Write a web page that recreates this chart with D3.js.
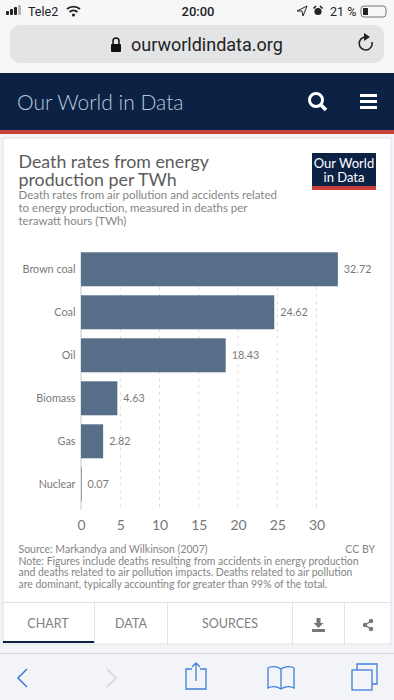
<!DOCTYPE html>
<html lang="en">
<head>
  <meta charset="UTF-8">
  <title>Death rates from energy production per TWh</title>
  <script src="https://cdn.jsdelivr.net/npm/d3@7"></script>
  <style>
    html, body { margin: 0; padding: 0; background: #f3f4f7; }
    svg { display: block; font-family: Lato, sans-serif; }
  </style>
</head>
<body>
  <svg width="394" height="700"></svg>
  <script>
    var categories = ['Brown coal', 'Coal', 'Oil', 'Biomass', 'Gas', 'Nuclear'];
    var values = [32.72, 24.62, 18.43, 4.63, 2.82, 0.07];
    var xTicks = [0, 5, 10, 15, 20, 25, 30];
    var titleLines = ['Death rates from energy', 'production per TWh'];
    var subtitleLines = [
      'Death rates from air pollution and accidents related',
      'to energy production, measured in deaths per',
      'terawatt hours (TWh)'
    ];
    var noteLines = [
      'Note: Figures include deaths resulting from accidents in energy production',
      'and deaths related to air pollution impacts. Deaths related to air pollution',
      'are dominant, typically accounting for greater than 99% of the total.'
    ];

    var svg = d3.select('svg');

    function label(x, y, str, size, color, anchor, font) {
      return svg.append('text')
      .attr('x', x)
      .attr('y', y)
      .attr('font-size', size)
      .attr('fill', color)
      .attr('text-anchor', anchor || 'start')
      .attr('font-family', font || null)
      .text(str);
    }

    // phone status bar + address bar
    svg.append('rect').attr('width', 394).attr('height', 73).attr('fill', '#f7f7f8');
    var signalBars = [4, 6, 8, 10];
    signalBars.forEach(function(h, i) {
      svg.append('rect').attr('x', 6 + i * 4).attr('y', 15 - h).attr('width', 3).attr('height', h)
      .attr('rx', 1).attr('fill', i === 3 ? '#b5b5b5' : '#222');
    });
    label(28, 16, 'Tele2', 12.5, '#222', 'start', 'Roboto');
    svg.append('path').attr('d', 'M67 9 a10 10 0 0 1 13 0 M69.5 12 a6 6 0 0 1 8 0')
    .attr('fill', 'none').attr('stroke', '#222').attr('stroke-width', 1.8);
    svg.append('circle').attr('cx', 73.500).attr('cy', 15).attr('r', 1.6).attr('fill', '#222');
    label(198, 16, '20:00', 13, '#222', 'middle', 'Roboto').attr('font-weight', 500);
    svg.append('path').attr('d', 'M297 11 L307 6 L303 16 L302 11 Z').attr('fill', 'none').attr('stroke', '#222');
    // alarm clock
    svg.append('circle').attr('cx', 318).attr('cy', 11.5).attr('r', 3.6).attr('fill', '#222');
    svg.append('path').attr('d', 'M313.500 8.500 L316 6 M322.500 8.500 L320 6').attr('stroke', '#222').attr('stroke-width', 1.6);
    label(330, 16, '21 %', 12.5, '#222', 'start', 'Roboto');
    svg.append('rect').attr('x', 361).attr('y', 6).attr('width', 25).attr('height', 11).attr('rx', 3)
    .attr('fill', 'none').attr('stroke', '#777');
    svg.append('rect').attr('x', 363).attr('y', 8).attr('width', 5).attr('height', 7).attr('fill', '#222');

    svg.append('rect').attr('x', 10).attr('y', 25).attr('width', 374).attr('height', 38).attr('rx', 10).attr('fill', '#e3e4e6');
    svg.append('rect').attr('x', 111).attr('y', 44).attr('width', 10).attr('height', 8).attr('rx', 1).attr('fill', '#111');
    svg.append('path').attr('d', 'M113 44 v-3 a3 3 0 0 1 6 0 v3').attr('fill', 'none').attr('stroke', '#111').attr('stroke-width', 1.5);
    label(131, 50.500, 'ourworldindata.org', 18, '#222', 'start', 'Roboto');
    // reload icon
    svg.append('path').attr('d', 'M372 42 a6.500 6.500 0 1 1 -6 -5').attr('fill', 'none').attr('stroke', '#222').attr('stroke-width', 1.6);
    svg.append('path').attr('d', 'M364 33 L370 37 L364 41 Z').attr('fill', '#222');

    // site header
    svg.append('rect').attr('y', 73).attr('width', 394).attr('height', 57).attr('fill', '#0b2245');
    svg.append('rect').attr('y', 130).attr('width', 394).attr('height', 4).attr('fill', '#c8403a');
    label(17, 110, 'Our World in Data', 21, '#b9c8d8').attr('font-weight', 300);
    svg.append('circle').attr('cx', 316).attr('cy', 100).attr('r', 6.500).attr('fill', 'none').attr('stroke', '#fff').attr('stroke-width', 3);
    svg.append('line').attr('x1', 321).attr('y1', 105).attr('x2', 326).attr('y2', 110).attr('stroke', '#fff').attr('stroke-width', 3.500);
    [94, 100, 106].forEach(function(y) {
      svg.append('rect').attr('x', 360).attr('y', y).attr('width', 17).attr('height', 3).attr('fill', '#fff');
    });

    // chart card
    svg.append('rect').attr('x', 3).attr('y', 138).attr('width', 388).attr('height', 506).attr('fill', '#fff')
    .attr('stroke', '#e2e2e2');

    titleLines.forEach(function(t, i) {
      label(18.500, 168 + i * 17.500, t, 17.800, '#5b5b5b');
    });
    subtitleLines.forEach(function(t, i) {
      label(18.500, 199 + i * 12.800, t, 11.500, '#858585');
    });

    // logo
    svg.append('rect').attr('x', 312).attr('y', 153).attr('width', 64).attr('height', 37).attr('fill', '#0b2245');
    svg.append('rect').attr('x', 312).attr('y', 186).attr('width', 64).attr('height', 4).attr('fill', '#c8403a');
    label(344, 168, 'Our World', 13, '#fff', 'middle');
    label(344, 182, 'in Data', 13, '#fff', 'middle');

    // chart
    var margin = {top: 248, left: 81, bottom: 510};
    var xScale = d3.scaleLinear().domain([0, 30]).range([margin.left, 316.500]);
    var yScale = d3.scaleBand().domain(categories).range([margin.top, margin.top + 257.600]).paddingInner(0.21).paddingOuter(0.1);

    svg.append('g').selectAll('line')
    .data(xTicks)
    .enter()
    .append('line')
    .attr('x1', function(d) { return xScale(d); })
    .attr('x2', function(d) { return xScale(d); })
    .attr('y1', margin.top + 4)
    .attr('y2', margin.bottom)
    .attr('stroke', function(d) { return d === 0 ? '#c4c9d0' : '#e0dcdc'; })
    .attr('stroke-dasharray', function(d) { return d === 0 ? null : '3,4'; });

    var axis = svg.append('g')
    .attr('transform', 'translate(0,' + margin.bottom + ')')
    .call(d3.axisBottom(xScale).tickValues(xTicks).tickSize(0).tickPadding(10));
    axis.select('.domain').remove();
    axis.selectAll('text').attr('font-size', 14).attr('fill', '#777').attr('font-family', 'Lato');

    var row = svg.selectAll('.row')
    .data(categories)
    .enter()
    .append('g')
    .attr('class', 'row');

    row.append('rect')
    .attr('x', xScale(0))
    .attr('y', function(d) { return yScale(d); })
    .attr('width', function(d, i) { return xScale(values[i]) - xScale(0); })
    .attr('height', yScale.bandwidth())
    .attr('fill', '#566e88');

    row.append('text')
    .attr('x', xScale(0) - 5.500)
    .attr('y', function(d) { return yScale(d) + yScale.bandwidth() / 2; })
    .attr('dy', '.35em')
    .attr('text-anchor', 'end')
    .attr('font-size', 10.800)
    .attr('fill', '#7a7a7a')
    .text(function(d) { return d; });

    row.append('text')
    .attr('x', function(d, i) { return xScale(values[i]) + 6; })
    .attr('y', function(d) { return yScale(d) + yScale.bandwidth() / 2; })
    .attr('dy', '.35em')
    .attr('font-size', 10.800)
    .attr('fill', '#7a7a7a')
    .text(function(d, i) { return values[i]; });

    // footer
    label(18.500, 553, 'Source: Markandya and Wilkinson (2007)', 10.500, '#858585');
    label(375, 553, 'CC BY', 10.500, '#858585', 'end');
    noteLines.forEach(function(t, i) {
      label(18.500, 564.800 + i * 11.600, t, 10.450, '#858585');
    });

    // tabs
    svg.append('line').attr('x1', 3).attr('x2', 391).attr('y1', 602.500).attr('y2', 602.500).attr('stroke', '#e2e2e2');
    [94, 167, 292, 344].forEach(function(x) {
      svg.append('line').attr('x1', x + 0.500).attr('x2', x + 0.500).attr('y1', 603).attr('y2', 644).attr('stroke', '#e2e2e2');
    });
    svg.append('rect').attr('x', 3).attr('y', 641).attr('width', 91).attr('height', 2).attr('fill', '#0b2245');
    label(48, 628, 'CHART', 12.500, '#808080', 'middle');
    label(131, 628, 'DATA', 12.500, '#808080', 'middle');
    label(230, 628, 'SOURCES', 12.500, '#808080', 'middle');
    svg.append('path').attr('d', 'M316.500 618 h4 v5 h3 l-5 5 l-5 -5 h3 Z M312 629 h13 v3 h-13 Z').attr('fill', '#777');
    svg.append('path').attr('d', 'M371 621 L365 625 L371 629').attr('fill', 'none').attr('stroke', '#777').attr('stroke-width', 1.5);
    [[371, 621], [365, 625], [371, 629]].forEach(function(p) {
      svg.append('circle').attr('cx', p[0]).attr('cy', p[1]).attr('r', 2.200).attr('fill', '#777');
    });

    // browser toolbar
    svg.append('line').attr('x1', 0).attr('x2', 394).attr('y1', 653.500).attr('y2', 653.500).attr('stroke', '#d8d8d8');
    var blue = '#3f7fdb';
    svg.append('path').attr('d', 'M27 669 L18 678 L27 687').attr('fill', 'none').attr('stroke', blue).attr('stroke-width', 1.6);
    svg.append('path').attr('d', 'M107 669 L116 678 L107 687').attr('fill', 'none').attr('stroke', '#d4d6da').attr('stroke-width', 1.6);
    svg.append('path').attr('d', 'M192 669 h-6 v20 h20 v-20 h-6 M196 681 v-18 M192 667 l4 -4 l4 4').attr('fill', 'none').attr('stroke', blue).attr('stroke-width', 1.3);
    svg.append('path').attr('d', 'M281 669 c-4 -3 -10 -3 -13 -1 v20 c3 -2 9 -2 13 1 c4 -3 10 -3 13 -1 v-20 c-3 -2 -9 -2 -13 1 Z M281 669 v20').attr('fill', 'none').attr('stroke', blue).attr('stroke-width', 1.3);
    svg.append('rect').attr('x', 352).attr('y', 670).attr('width', 20).attr('height', 20).attr('fill', 'none').attr('stroke', blue).attr('stroke-width', 1.3);
    svg.append('path').attr('d', 'M357 670 v-6 h20 v20 h-5').attr('fill', 'none').attr('stroke', blue).attr('stroke-width', 1.3);
  </script>
</body>
</html>
